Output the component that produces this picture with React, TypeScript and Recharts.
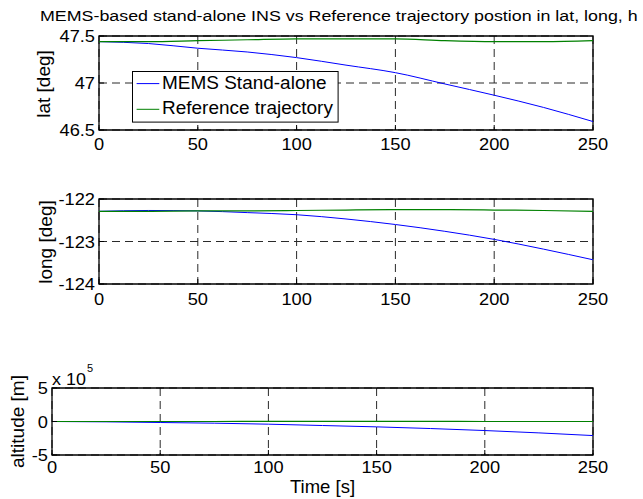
import { LineChart, Line, XAxis, YAxis, CartesianGrid, ReferenceArea, Legend } from "recharts"

const FONT = "'Liberation Sans', Arial, Helvetica, sans-serif"

// time axis (s)
const time = [0, 25, 50, 75, 100, 125, 150, 175, 200, 225, 250]
const timeTicks = [0, 50, 100, 150, 200, 250]

// latitude (deg)
const latMems = [47.44, 47.42, 47.37, 47.33, 47.27, 47.19, 47.11, 46.99, 46.87, 46.74, 46.59]
const latRef = [47.44, 47.44, 47.45, 47.46, 47.47, 47.47, 47.47, 47.45, 47.44, 47.44, 47.45]
const latTicks = [46.5, 47, 47.5]

// longitude (deg)
const longMems = [-122.29, -122.27, -122.28, -122.32, -122.37, -122.47, -122.6, -122.76, -122.95, -123.18, -123.43]
const longRef = [-122.29, -122.29, -122.28, -122.28, -122.27, -122.26, -122.25, -122.25, -122.26, -122.27, -122.29]
const longTicks = [-124, -123, -122]

// altitude (m)
const altMems = [0, -5000, -15000, -25000, -40000, -60000, -80000, -105000, -135000, -170000, -210000]
const altRef = [300, 320, 350, 380, 400, 420, 410, 390, 380, 360, 350]
const altTicks = [-500000, 0, 500000]

function SText({ x, y, size, sx = 1, anchor = "start", children }: any) {
  return (
    <text
      transform={`translate(${x} ${y}) scale(${sx} 1)`}
      textAnchor={anchor}
      fontFamily={FONT}
      fontSize={size}
      fill="#000"
    >
      {children}
    </text>
  )
}

const xTick = (dy: number) => (props: any) => (
  <SText x={props.x} y={props.y + dy} size={16.3} sx={1.12} anchor="middle">
    {props.payload.value}
  </SText>
)

const yTick = (fmt: (v: number) => string) => (props: any) => (
  <SText x={props.x} y={props.y + 6} size={16.3} sx={1.12} anchor="end">
    {fmt(props.payload.value)}
  </SText>
)

const LegendBox = (props: any) => (
  <svg width={207} height={52} style={{ display: "block" }}>
    <rect x={0.5} y={0.5} width={205.6} height={50.6} fill="#fff" stroke="#000" />
    {(props.payload || []).map((p: any, i: number) => (
      <g key={i}>
        <line x1={4.6} x2={27.3} y1={12.6 + i * 25.7} y2={12.6 + i * 25.7} stroke={p.color} />
        <SText x={30} y={18.3 + i * 25} size={17.5} sx={1.085}>
          {p.value}
        </SText>
      </g>
    ))}
  </svg>
)

interface PanelProps {
  top: number
  height: number
  left: number
  plotTop: number
  plotBottom: number
  xDy: number
  mems: number[]
  refVals: number[]
  domain: [number, number]
  ticks: number[]
  fmt: (v: number) => string
  legend?: boolean
}

function Panel({ top, height, left, plotTop, plotBottom, xDy, mems, refVals, domain, ticks, fmt, legend }: PanelProps) {
  const rows = time.map((t, i) => ({ t, mems: mems[i], ref: refVals[i] }))
  return (
    <div style={{ position: "absolute", left: 0, top }}>
      <LineChart
        width={643}
        height={height}
        data={rows}
        margin={{ top: plotTop - 1, right: 643 - 593 - 1, bottom: 0, left: 0 }}
      >
        <CartesianGrid stroke="#2a2a2a" strokeDasharray="8 5" />
        <XAxis
          dataKey="t"
          type="number"
          domain={[0, 250]}
          ticks={timeTicks}
          interval={0}
          height={height - plotBottom}
          tickSize={-5}
          tickMargin={5}
          tickLine={{ stroke: "#000" }}
          axisLine={false}
          tick={xTick(xDy)}
        />
        <XAxis
          xAxisId="top"
          orientation="top"
          dataKey="t"
          type="number"
          domain={[0, 250]}
          ticks={timeTicks}
          interval={0}
          height={1}
          tickSize={-5}
          tick={false}
          tickLine={{ stroke: "#000" }}
          axisLine={false}
        />
        <YAxis
          type="number"
          domain={domain}
          ticks={ticks}
          interval={0}
          width={left}
          tickSize={-5}
          tickMargin={9}
          tickLine={{ stroke: "#000" }}
          axisLine={false}
          tick={yTick(fmt)}
        />
        <YAxis
          yAxisId="right"
          orientation="right"
          type="number"
          domain={domain}
          ticks={ticks}
          interval={0}
          width={1}
          tickSize={-5}
          tick={false}
          tickLine={{ stroke: "#000" }}
          axisLine={false}
        />
        <Line
          dataKey="mems"
          name="MEMS Stand-alone"
          type="monotone"
          stroke="#0000ff"
          strokeWidth={1}
          dot={false}
          isAnimationActive={false}
        />
        <Line
          dataKey="ref"
          name="Reference trajectory"
          type="monotone"
          stroke="#008000"
          strokeWidth={1.2}
          dot={false}
          isAnimationActive={false}
        />
        <ReferenceArea
          x1={0}
          x2={250}
          y1={domain[0]}
          y2={domain[1]}
          fill="none"
          stroke="#000"
          strokeWidth={1.3}
          ifOverflow="visible"
        />
        {legend && (
          <Legend
            layout="vertical"
            align="center"
            verticalAlign="middle"
            wrapperStyle={{ position: "absolute", left: 132, top: 71 - top, width: 207, height: 52 }}
            content={LegendBox}
          />
        )}
      </LineChart>
    </div>
  )
}

export default function App() {
  return (
    <div style={{ position: "absolute", left: 0, top: 0, width: 643, height: 499, background: "#fff" }}>
      <Panel
        top={0}
        height={160}
        left={99}
        plotTop={36}
        plotBottom={130}
        xDy={20}
        mems={latMems}
        refVals={latRef}
        domain={[46.5, 47.5]}
        ticks={latTicks}
        fmt={(v) => String(v)}
        legend
      />
      <Panel
        top={160}
        height={160}
        left={99}
        plotTop={39}
        plotBottom={124}
        xDy={21}
        mems={longMems}
        refVals={longRef}
        domain={[-124, -122]}
        ticks={longTicks}
        fmt={(v) => String(v)}
      />
      <Panel
        top={320}
        height={179}
        left={52}
        plotTop={68}
        plotBottom={135}
        xDy={18}
        mems={altMems}
        refVals={altRef}
        domain={[-500000, 500000]}
        ticks={altTicks}
        fmt={(v) => String(v / 100000)}
      />
      <svg
        width={643}
        height={499}
        style={{ position: "absolute", left: 0, top: 0, pointerEvents: "none" }}
      >
        <SText x={40} y={20.7} size={15} sx={1.19}>
          MEMS-based stand-alone INS vs Reference trajectory postion in lat, long, h
        </SText>
        <text transform="translate(50 84) rotate(-90)" textAnchor="middle" fontFamily={FONT} fontSize={19}>
          lat [deg]
        </text>
        <text transform="translate(51.5 242) rotate(-90)" textAnchor="middle" fontFamily={FONT} fontSize={19}>
          long [deg]
        </text>
        <text transform="translate(23.5 421.5) rotate(-90)" textAnchor="middle" fontFamily={FONT} fontSize={19}>
          altitude [m]
        </text>
        <SText x={322.5} y={493} size={18.5} anchor="middle">
          Time [s]
        </SText>
        <SText x={52} y={385} size={16} sx={1.12}>
          x 10
        </SText>
        <SText x={87} y={372} size={10} sx={1.1}>
          5
        </SText>
      </svg>
    </div>
  )
}
